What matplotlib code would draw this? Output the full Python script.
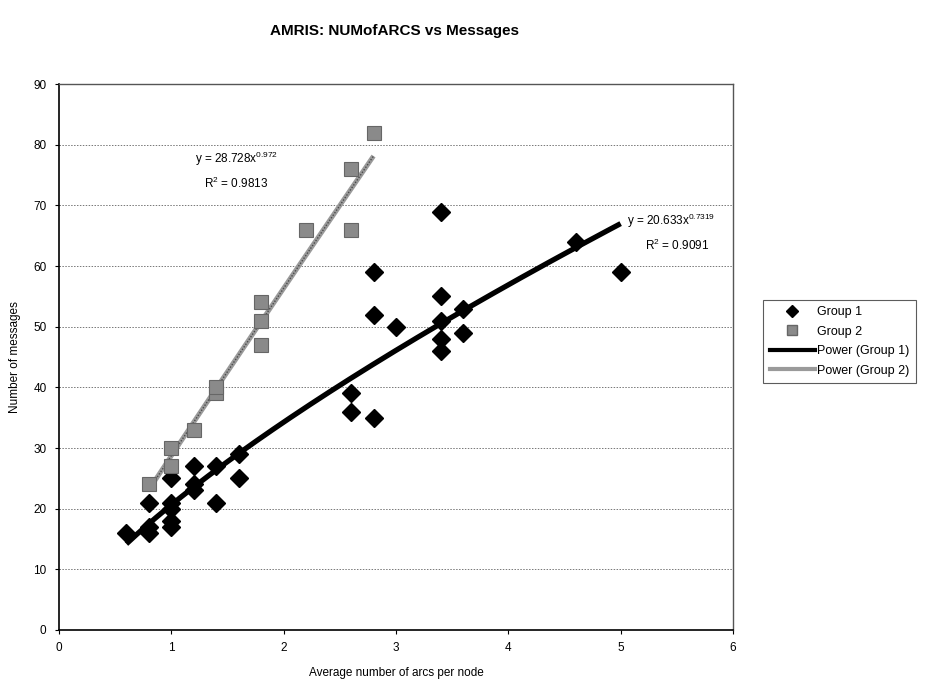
import numpy as np
import matplotlib
matplotlib.use('Agg')
import matplotlib.pyplot as plt
from matplotlib.lines import Line2D

plt.rcParams['font.family'] = ['Liberation Sans', 'DejaVu Sans']
plt.rcParams['mathtext.fontset'] = 'custom'
plt.rcParams['mathtext.rm'] = 'Liberation Sans'
plt.rcParams['mathtext.it'] = 'Liberation Sans'

#group 1 measurements
g1_x = [0.6, 0.8, 0.8, 0.8, 1.0, 1.0, 1.0, 1.0, 1.0, 1.2, 1.2, 1.2, 1.4, 1.4, 1.6, 1.6,
        2.6, 2.6, 2.8, 2.8, 2.8, 3.0, 3.4, 3.4, 3.4, 3.4, 3.4, 3.6, 3.6, 4.6, 5.0]
g1_y = [16, 16, 17, 21, 17, 18, 20, 21, 25, 23, 24, 27, 21, 27, 25, 29,
        36, 39, 35, 52, 59, 50, 46, 48, 51, 55, 69, 49, 53, 64, 59]

#group 2 measurements
g2_x = [0.8, 1.0, 1.0, 1.2, 1.4, 1.4, 1.8, 1.8, 1.8, 2.2, 2.6, 2.6, 2.8]
g2_y = [24, 27, 30, 33, 39, 40, 47, 51, 54, 66, 66, 76, 82]

#power trendlines y = a*x^b
g1_a, g1_b, g1_r2 = 20.633, 0.7319, 0.9091
g2_a, g2_b, g2_r2 = 28.728, 0.972, 0.9813

fig = plt.figure(figsize=(9.29, 6.9), dpi=100)
ax = fig.add_axes([0.0635, 0.087, 0.7255, 0.791])

#gridlines
for yv in range(10, 90, 10):
    ax.axhline(yv, color='#777777', linestyle=(0, (1.5, 1.5)), linewidth=0.7, zorder=0)

#trendlines
xs1 = np.linspace(min(g1_x), max(g1_x), 200)
xs2 = np.linspace(min(g2_x), max(g2_x), 200)
ax.plot(xs1, g1_a * xs1 ** g1_b, color='black', linewidth=3.8, zorder=3, solid_capstyle='butt')
ax.plot(xs2, g2_a * xs2 ** g2_b, color='#9a9a9a', linewidth=3.5, zorder=3, solid_capstyle='butt')
ax.plot(xs2, g2_a * xs2 ** g2_b, color='#4a4a4a', linewidth=1.0, linestyle=(0, (1, 1.2)), zorder=3)

#points
ax.plot(g1_x, g1_y, linestyle='none', marker='D', markersize=9, color='black', zorder=4)
ax.plot(g2_x, g2_y, linestyle='none', marker='s', markersize=10, markerfacecolor='#8a8a8a',
        markeredgecolor='#666666', markeredgewidth=0.8, zorder=4)

#equations
ax.text(1.58, 77.6, r'y = 28.728x$^{0.972}$', fontsize=8.5, ha='center', va='center')
ax.text(1.58, 73.6, r'R$^{2}$ = 0.9813', fontsize=8.5, ha='center', va='center')
ax.text(5.45, 67.4, r'y = 20.633x$^{0.7319}$', fontsize=8.5, ha='center', va='center')
ax.text(5.5, 63.4, r'R$^{2}$ = 0.9091', fontsize=8.5, ha='center', va='center')

ax.set_xlim(0, 6)
ax.set_ylim(0, 90)
ax.set_xticks(range(0, 7))
ax.set_yticks(range(0, 100, 10))
ax.tick_params(labelsize=8.5, length=3, width=0.8, direction='out', pad=6)
for side in ['left', 'bottom']:
    ax.spines[side].set_linewidth(1.2)
    ax.spines[side].set_color('black')
for side in ['top', 'right']:
    ax.spines[side].set_linewidth(1.0)
    ax.spines[side].set_color('#555555')

ax.set_xlabel('Average number of arcs per node', fontsize=8.5, labelpad=9)
ax.set_ylabel('Number of messages', fontsize=8.5, labelpad=9)
fig.text(0.425, 0.955, 'AMRIS: NUMofARCS vs Messages', fontsize=11, fontweight='bold',
         ha='center', va='center')

#legend
handles = [
    Line2D([], [], linestyle='none', marker='D', markersize=6, color='black'),
    Line2D([], [], linestyle='none', marker='s', markersize=7, markerfacecolor='#8a8a8a',
           markeredgecolor='#666666'),
    Line2D([], [], color='black', linewidth=3),
    Line2D([], [], color='#9a9a9a', linewidth=3),
]
labels = ['Group 1', 'Group 2', 'Power (Group 1)', 'Power (Group 2)']
leg = fig.legend(handles, labels, loc='center left', bbox_to_anchor=(0.815, 0.505),
                 fontsize=9, frameon=True, fancybox=False, handlelength=3.6,
                 handletextpad=0.2, borderpad=0.5, labelspacing=0.6)
leg.get_frame().set_edgecolor('#333333')
leg.get_frame().set_linewidth(0.8)

plt.savefig('out.png', dpi=100)
plt.close()
